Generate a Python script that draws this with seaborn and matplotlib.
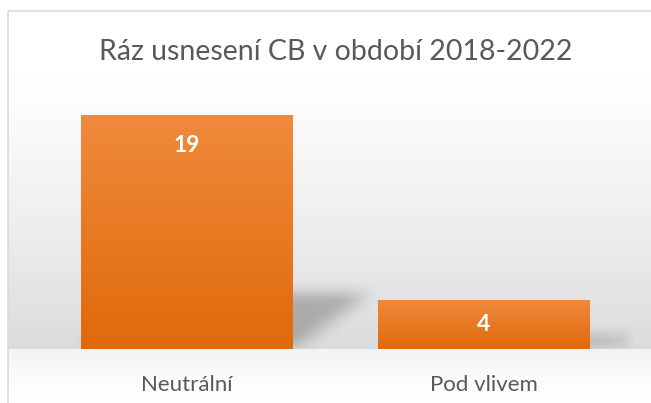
#!/usr/bin/env python3
"""
plot.py
Bar chart of CB resolution character, 2018-2022, Excel-style look.
"""
import numpy as np
import pandas as pd
import matplotlib
matplotlib.use("Agg")
import matplotlib.pyplot as plt
import seaborn as sns
from matplotlib.patches import Rectangle
from matplotlib.path import Path as MPath
from matplotlib.colors import LinearSegmentedColormap

categories = ["Neutrální", "Pod vlivem"]
counts = [19, 4]
title = "Ráz usnesení CB v období 2018-2022"

W, H = 651, 403
DPI = 100

sns.set_theme(style="white")
plt.rcParams["font.family"] = ["Lato", "DejaVu Sans"]

fig = plt.figure(figsize=(W / DPI, H / DPI), dpi=DPI)
fig.patch.set_facecolor("white")

# background gradient of the chart area (figure coords)
bg = fig.add_axes([0, 0, 1, 1], zorder=0)
bg.set_axis_off()
py = np.arange(H)[:, None] + 0.5  # pixel rows, top = 0
lvl = np.where(py < 75, 1.0,
      np.where(py < 349, 1.0 - 0.14 * ((py - 75) / 274) ** 1.2,
               0.955 + 0.045 * np.clip((py - 349) / 45, 0, 1)))
img = np.repeat(lvl, 2, axis=1)
bg.imshow(np.dstack([img, img, img]), extent=[0, 1, 0, 1], aspect="auto",
          transform=bg.transAxes, interpolation="bilinear")
bg.set_xlim(0, 1)
bg.set_ylim(0, 1)
# outer white margin and frame
bg.add_patch(Rectangle((0, 0), 7 / W, 1, color="white", transform=bg.transAxes))
bg.add_patch(Rectangle((0, 1 - 10 / H), 1, 10 / H, color="white", transform=bg.transAxes))
bg.plot([7.5 / W, 7.5 / W, 1], [0, 1 - 10.5 / H, 1 - 10.5 / H], color="#d9d9d9",
        lw=1.2, transform=bg.transAxes)

# plot area: centers at 187 and 484 px, baseline at 349 px
left = 38.5 / W
width = 594 / W
bottom = (H - 349) / H
ax = fig.add_axes([left, bottom, width, (349 - 103) / H], zorder=2)
ax.patch.set_alpha(0)

df = pd.DataFrame({"category": categories, "count": counts})
sns.barplot(data=df, x="category", y="count", ax=ax, width=212 / 297,
            color="#ed7d31", errorbar=None)
ax.set_xlim(-0.5, 1.5)
ax.set_ylim(0, 20)
ax.set_xlabel("")
ax.set_ylabel("")
ax.set_yticks([])
for s in ax.spines.values():
    s.set_visible(False)
ax.tick_params(axis="x", length=0, pad=19, labelsize=16, labelcolor="#595959")

# soft perspective shadows, rasterised over the plot area and blurred
nx, ny = 600, 250
gx = np.linspace(-0.5, 1.5, nx)
gy = np.linspace(0, 20, ny)
XX, YY = np.meshgrid(gx, gy)
pts = np.column_stack([XX.ravel(), YY.ravel()])
mask = np.zeros(XX.shape)
for bar in ax.patches:
    x0, w, h = bar.get_x(), bar.get_width(), bar.get_height()
    dx, sh = w * 0.36, h * 0.24
    poly = MPath([(x0, 0), (x0 + w, 0), (x0 + w + dx, sh), (x0 + dx, sh)])
    mask = np.maximum(mask, poly.contains_points(pts).reshape(XX.shape))

def blur(a, r, axis):
    k = np.ones(2 * r + 1) / (2 * r + 1)
    return np.apply_along_axis(lambda v: np.convolve(v, k, mode="same"), axis, a)

for _ in range(3):
    mask = blur(mask, 8, 1)
    mask = blur(mask, 6, 0)
shadow = np.zeros(XX.shape + (4,))
shadow[..., 3] = mask * 0.24
ax.imshow(shadow, extent=[-0.5, 1.5, 0, 20], origin="lower", aspect="auto",
          zorder=1, interpolation="bilinear")

cmap = LinearSegmentedColormap.from_list("bar", ["#e0690a", "#f08a3c"])
grad = np.linspace(0, 1, 256)[:, None]
for bar, val in zip(ax.patches, counts):
    x0, w, h = bar.get_x(), bar.get_width(), bar.get_height()
    bar.set_zorder(3)
    bar.set_edgecolor("none")
    im = ax.imshow(grad, extent=[x0, x0 + w, 0, h], origin="lower", cmap=cmap,
                   aspect="auto", zorder=3)
    im.set_clip_path(bar)
    bar.set_facecolor("none")
    ytxt = h - 2.45 if h > 8 else h / 2
    ax.text(x0 + w / 2, ytxt, str(val), ha="center", va="center", color="white",
            fontsize=16.5, fontweight="bold", zorder=4)

ax.set_xlim(-0.5, 1.5)
ax.set_ylim(0, 20)

fig.text(335.5 / W, 1 - 52 / H, title, ha="center", va="center", fontsize=20.5,
         color="#595959")

fig.savefig("out.png", dpi=DPI)
plt.close(fig)
